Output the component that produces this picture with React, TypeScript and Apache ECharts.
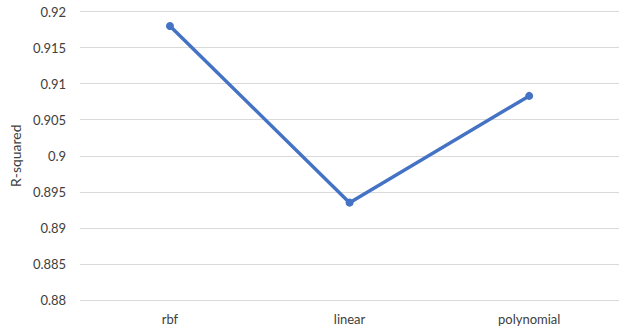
import React, { useEffect, useRef } from "react";
import * as echarts from "echarts";

const categories = ["rbf", "linear", "polynomial"];
const rSquared = [0.918, 0.8935, 0.9083];
const yMin = 0.88;
const yMax = 0.92;
const yStep = 0.005;

export default function App() {
  const ref = useRef<HTMLDivElement>(null);

  useEffect(() => {
    if (!ref.current) return;
    const chart = echarts.init(ref.current, undefined, { renderer: "svg" });
    const font = "Lato, 'Liberation Sans', sans-serif";
    const textColor = "#404040";
    chart.setOption({
      animation: false,
      backgroundColor: "#ffffff",
      grid: { left: 76, top: 11.5, width: 551, height: 288.5, containLabel: false },
      xAxis: {
        type: "category",
        data: categories,
        boundaryGap: true,
        axisLine: { show: false },
        axisTick: { show: false },
        axisLabel: { color: textColor, fontSize: 13, fontFamily: font, margin: 12 },
      },
      yAxis: {
        type: "value",
        min: yMin,
        max: yMax,
        interval: yStep,
        name: "R-squared",
        nameLocation: "middle",
        nameGap: 54,
        nameTextStyle: { color: textColor, fontSize: 14, fontFamily: font },
        axisLine: { show: false },
        axisTick: { show: false },
        axisLabel: {
          color: textColor,
          fontSize: 13,
          fontFamily: font,
          margin: 14,
          formatter: (v: number) => String(parseFloat(v.toFixed(3))),
        },
        splitLine: { lineStyle: { color: "#d9d9d9", width: 1 } },
      },
      series: [
        {
          type: "line",
          data: rSquared,
          symbol: "circle",
          symbolSize: 8,
          lineStyle: { color: "#4472C4", width: 3.5 },
          itemStyle: { color: "#4472C4" },
        },
      ],
    });
    return () => chart.dispose();
  }, []);

  return (
    <div
      ref={ref}
      style={{ position: "fixed", left: 0, top: 0, width: 619, height: 333, background: "#fff" }}
    />
  );
}
